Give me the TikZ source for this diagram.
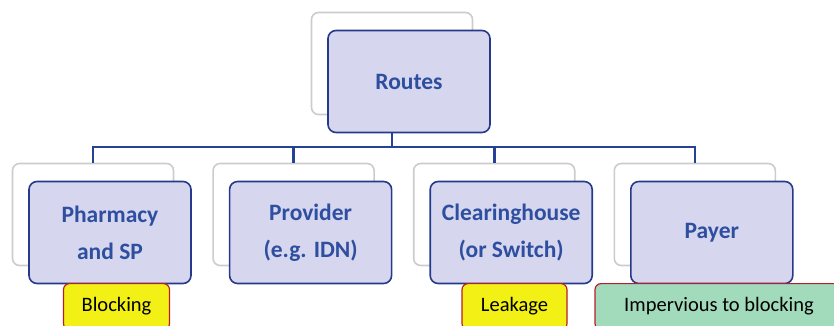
\documentclass[tikz,border=0pt]{standalone}
\usepackage{fontspec}
\setmainfont{Carlito}
\usetikzlibrary{positioning}
\definecolor{boxfill}{RGB}{214,214,238}
\definecolor{boxline}{RGB}{38,58,140}
\definecolor{boxtext}{RGB}{46,78,160}
\definecolor{linkcol}{RGB}{36,66,150}
\definecolor{tagyellow}{RGB}{242,240,20}
\definecolor{taggreen}{RGB}{162,218,188}
\definecolor{tagline}{RGB}{185,30,40}

\begin{document}
\begin{tikzpicture}[x=1pt,y=1pt,
    back/.style={draw=gray!40,line width=1.6pt,fill=white,rounded corners=7pt,minimum width=161pt,minimum height=102pt,inner sep=0pt},
    front/.style={draw=boxline,line width=1.6pt,fill=boxfill,rounded corners=8pt,minimum width=162pt,minimum height=102pt,align=center,inner sep=0pt,
      text=boxtext,font=\fontsize{23.5}{37}\selectfont\bfseries},
    tag/.style={draw=tagline,line width=1.2pt,rounded corners=6pt,minimum height=46pt,anchor=north,inner sep=0pt,
      font=\fontsize{20.5}{24}\selectfont},
    link/.style={draw=linkcol,line width=2.6pt}]
  \useasboundingbox (0,0) rectangle (834,-325);
  \clip (0,0) rectangle (834,-325);
  % back layer
  \node[back] (rb) at (392,-63.5) {};
  \node[back] (pb) at (93,-214.5) {};
  \node[back,right=38pt of pb] (vb) {};
  \node[back,right=38pt of vb] (cb) {};
  \node[back,right=38pt of cb] (yb) {};
  % tree lines
  \coordinate (bus) at (0,-147);
  \foreach \c in {pb,vb,cb,yb}
    \draw[link] (rb.south) -- (rb.south |- bus) -| (\c.north);
  % front layer
  \node[front] (routes) at ([shift={(17,-18)}]rb.center) {Routes};
  \node[front] (pharm) at ([shift={(17,-18)}]pb.center) {Pharmacy\\and SP};
  \node[front] (prov) at ([shift={(17,-18)}]vb.center) {Provider\\(e.g. IDN)};
  \node[front] (clear) at ([shift={(17,-18)}]cb.center) {Clearinghouse\\(or Switch)};
  \node[front] (payer) at ([shift={(17,-18)}]yb.center) {Payer};
  % labels under boxes
  \node[tag,fill=tagyellow,minimum width=106pt] (block) at (116.5,-283) {Blocking};
  \node[tag,fill=tagyellow,minimum width=105pt] (leak) at (514.5,-283) {Leakage};
  \node[tag,fill=taggreen,minimum width=248pt] (imperv) at (719,-283) {Impervious to blocking};
\end{tikzpicture}
\end{document}
